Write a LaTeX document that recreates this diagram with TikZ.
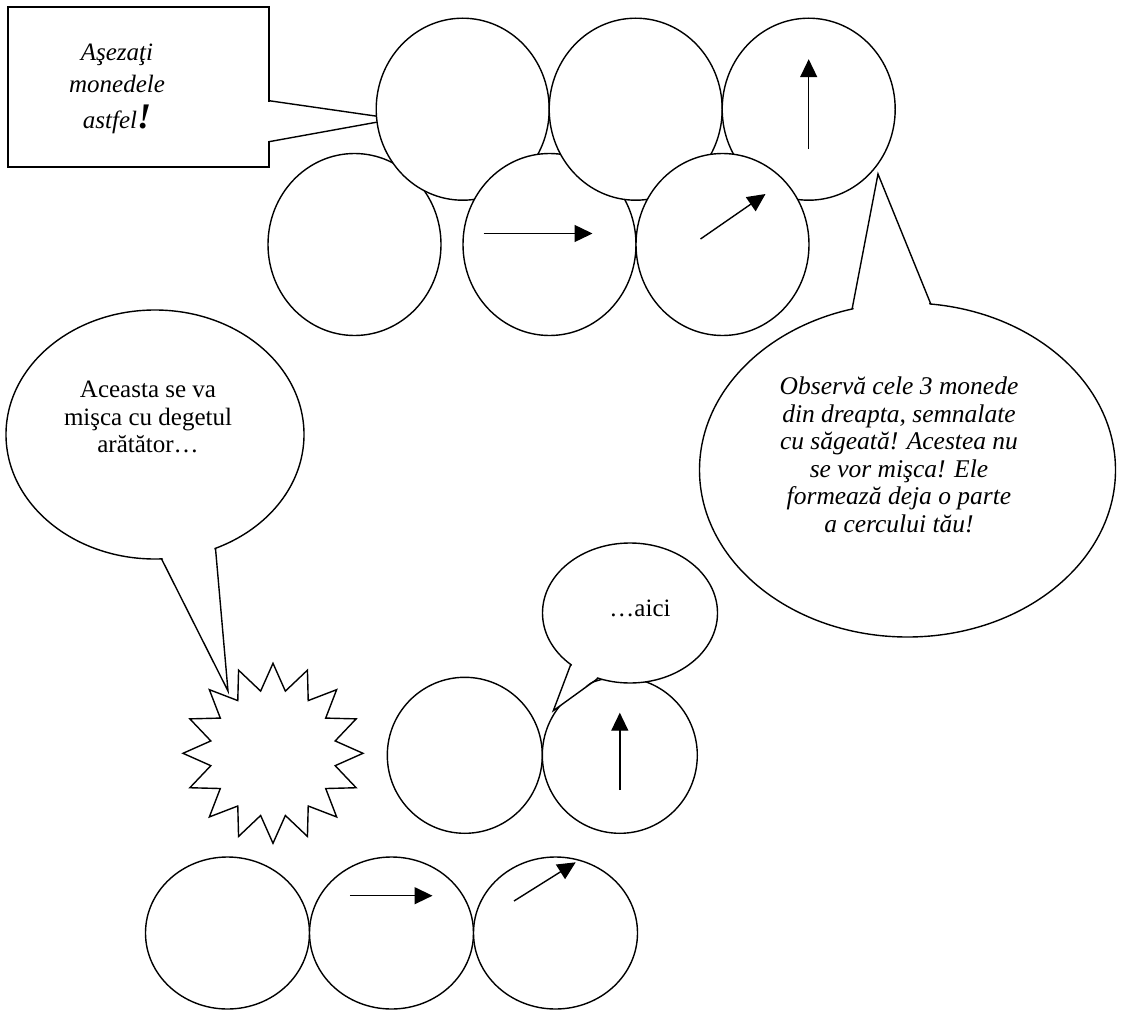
\documentclass[tikz,border=0pt]{standalone}
\usepackage{fontspec}
\setmainfont{Liberation Serif}
\usetikzlibrary{positioning,arrows.meta,shapes.geometric,calc}

\begin{document}
\begin{tikzpicture}[x=1pt,y=-1pt,line width=1.4pt,
  coin/.style={ellipse,draw,fill=white,inner sep=0pt,outer sep=0pt,
    minimum width=173pt,minimum height=182pt},
  paircoin/.style={coin,minimum width=155pt,minimum height=156pt},
  lowcoin/.style={coin,minimum width=164pt,minimum height=152pt},
  bubble/.style={ellipse,draw,fill=white,inner sep=0pt,outer sep=0pt},
  said/.style={align=center,inner sep=0pt,font=\fontsize{25}{27.5}\selectfont},
  saidit/.style={said,font=\fontsize{25.5}{27.5}\selectfont\itshape},
  move/.style={-{Triangle[length=18pt,width=17pt]}}]
\useasboundingbox (0,0) rectangle (1122,1014);
% coins, start position (order gives the overlaps)
\node[coin] (m1) at (354.5,244.5) {};
\node[coin] (t1) at (462.7,109.2) {};
\node[coin] (m2) at (549.5,244.5) {};
\node[coin,right=0pt of t1] (t2) {};
\node[coin,right=0pt of t2] (t3) {};
\node[coin,right=0pt of m2] (m3) {};
\draw[move] ($(t3.center)+(0,40)$) -- ($(t3.center)+(0,-50)$);
\draw[move] ($(m2.center)+(-66,-11)$) -- ++(109,0);
\draw[move] ($(m3.center)+(-22,-5.5)$) -- ++(65,-45);
% box callout
\node[draw,fill=white,inner sep=0pt,outer sep=0pt,minimum width=261pt,minimum height=160pt] (box) at (138.5,87) {};
\node[said,font=\fontsize{25}{32}\selectfont\itshape] (boxtext) at (117,89)
  {Aşezaţi\\monedele\\[4.7pt]astfel{\fontsize{36}{36}\selectfont\bfseries !}};
\coordinate (boxtop) at ($(box.north east)+(0,93.7)$);
\coordinate (boxbot) at ($(box.north east)+(0,134.7)$);
\coordinate (pin1) at ($(t1.west)+(0.5,7)$);
\coordinate (pin2) at ($(t1.west)+(0.5,13)$);
\fill[white] ($(boxtop)+(-1.5,1)$) rectangle ($(boxbot)+(1.5,-1)$);
\draw (boxtop) -- (pin1) (pin2) -- (boxbot);
% right bubble
\node[bubble,minimum width=416pt,minimum height=334pt] (note) at (907.5,470) {};
\coordinate (notetip) at (878,174);
\fill[white] ($(note.109)!3pt!(note.center)$) -- (notetip) -- ($(note.82)!3pt!(note.center)$) -- cycle;
\draw (note.109) -- (notetip) -- (note.82);
\node[saidit] (notetext) at (899,455) {Observă cele 3 monede\\din dreapta, semnalate\\cu săgeată! Acestea nu\\se vor mişca! Ele\\formează deja o parte\\a cercului tău!};
% moving coin
\node[star,star points=16,star point ratio=1.42,minimum size=180pt,draw,fill=white,inner sep=0pt,outer sep=0pt] (burst) at (273,753.3) {};
% left bubble
\node[bubble,minimum width=298pt,minimum height=249pt] (ask) at (155,434.5) {};
\coordinate (asktip) at (228,691);
\fill[white] ($(ask.273.2)!3pt!(ask.center)$) -- (asktip) -- ($(ask.298.7)!3pt!(ask.center)$) -- cycle;
\draw (ask.273.2) -- (asktip) -- (ask.298.7);
\node[said] (asktext) at (148,417) {Aceasta se va\\mişca cu degetul\\arătător…};
% coins, end position
\node[paircoin] (a1) at (464.8,755.3) {};
\node[paircoin,right=0pt of a1] (a2) {};
\draw[move] ($(a2.center)+(0,34.7)$) -- ($(a2.center)+(0,-42.6)$);
\node[bubble,minimum width=175pt,minimum height=140pt] (here) at (630,613) {};
\coordinate (heretip) at (553.3,710.7);
\fill[white] ($(here.221.6)!3pt!(here.center)$) -- (heretip) -- ($(here.244.8)!3pt!(here.center)$) -- cycle;
\draw (here.221.6) -- (heretip) -- (here.244.8);
\node[said,anchor=base] (heretext) at (640,616) {…aici};
\node[lowcoin] (b1) at (227.5,933) {};
\node[lowcoin,right=0pt of b1] (b2) {};
\node[lowcoin,right=0pt of b2] (b3) {};
\draw[move] ($(b2.center)+(-41.7,-37.3)$) -- ++(82.7,0);
\draw[move] ($(b3.center)+(-41.5,-32)$) -- ++(61.7,-38.7);
\end{tikzpicture}
\end{document}
